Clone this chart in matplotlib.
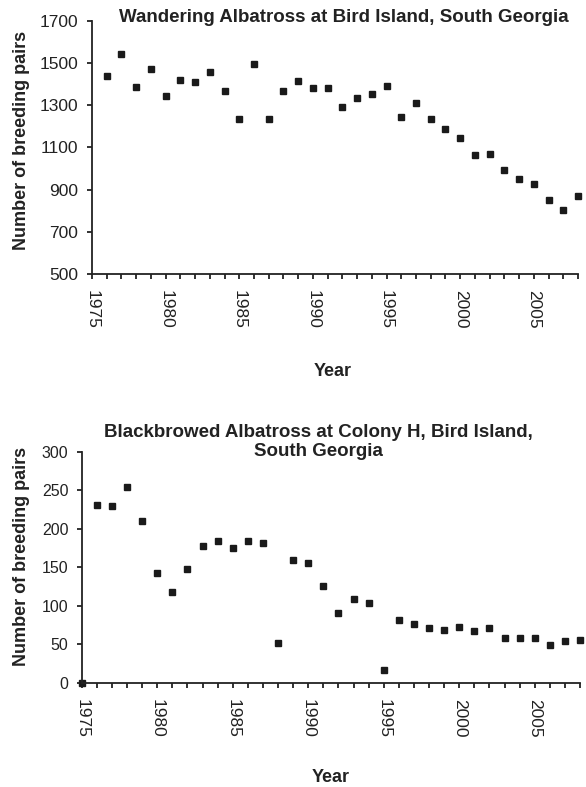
import numpy as np
import matplotlib.pyplot as plt
from matplotlib.ticker import MultipleLocator

plt.rcParams['font.family'] = ['Liberation Sans', 'DejaVu Sans']

# Datos: parejas reproductoras por año
years_wa = list(range(1976, 2009))
pairs_wa = [1438, 1544, 1388, 1470, 1345, 1418, 1410, 1456, 1367, 1235,
            1494, 1235, 1367, 1415, 1382, 1382, 1293, 1336, 1353, 1391,
            1246, 1312, 1236, 1186, 1143, 1064, 1069, 993, 950, 928,
            852, 805, 868]
yticks_wa = list(range(500, 1701, 200))

years_bb = list(range(1975, 2009))
pairs_bb = [0, 231, 229, 254, 210, 142, 118, 148, 178, 184, 175,
            184, 181, 52, 159, 155, 126, 90, 109, 103, 17,
            82, 76, 71, 68, 72, 67, 71, 58, 58, 58,
            49, 54, 55]
yticks_bb = list(range(0, 301, 50))

title_wa = 'Wandering Albatross at Bird Island, South Georgia'
title_bb = 'Blackbrowed Albatross at Colony H, Bird Island,\nSouth Georgia'

W, H = 586, 787
fig = plt.figure(figsize=(W / 100, H / 100), dpi=100)
ink = '#222222'


def px_axes(left, top, right, bottom):
    return fig.add_axes([left / W, 1 - bottom / H, (right - left) / W, (bottom - top) / H])


def style(ax, yticks, ysize, ypad):
    for s in ['top', 'right']:
        ax.spines[s].set_visible(False)
    for s in ['left', 'bottom']:
        ax.spines[s].set_linewidth(1.3)
        ax.spines[s].set_color(ink)
    ax.set_xlim(1975, 2008)
    ax.set_ylim(yticks[0], yticks[-1])
    ax.set_yticks(yticks)
    ax.xaxis.set_major_locator(MultipleLocator(5))
    ax.xaxis.set_minor_locator(MultipleLocator(1))
    ax.tick_params(axis='both', which='both', direction='out', length=3.5, width=1.3,
                   color=ink, labelcolor=ink)
    ax.tick_params(axis='x', which='major', labelrotation=-90, pad=8, labelsize=12.5)
    ax.tick_params(axis='y', pad=ypad, labelsize=ysize)


# Gráfico superior
ax1 = px_axes(92, 20.7, 578, 274)
ax1.plot(years_wa, pairs_wa, 's', color='#1a1a1a', ms=5, clip_on=False)
style(ax1, yticks_wa, 12.5, 6.5)
fig.text(344 / W, 1 - 17 / H, title_wa, ha='center', va='center',
         fontsize=13.5, fontweight='bold', color=ink)
fig.text(22 / W, 1 - 140 / H, 'Number of breeding pairs', rotation=90, ha='center',
         va='center', fontsize=13, fontweight='bold', color=ink)
fig.text(333 / W, 1 - 371 / H, 'Year', ha='center', va='center',
         fontsize=13, fontweight='bold', color=ink)

# Gráfico inferior
ax2 = px_axes(81.7, 451.7, 580, 682.7)
ax2.plot(years_bb, pairs_bb, 's', color='#1a1a1a', ms=5, clip_on=False)
style(ax2, yticks_bb, 11.5, 6)
fig.text(318 / W, 1 - 442 / H, title_bb, ha='center', va='center',
         fontsize=13.5, fontweight='bold', color=ink, linespacing=1.2)
fig.text(22 / W, 1 - 556 / H, 'Number of breeding pairs', rotation=90, ha='center',
         va='center', fontsize=13, fontweight='bold', color=ink)
fig.text(331 / W, 1 - 778 / H, 'Year', ha='center', va='center',
         fontsize=13, fontweight='bold', color=ink)

fig.savefig('out.png', dpi=100)
